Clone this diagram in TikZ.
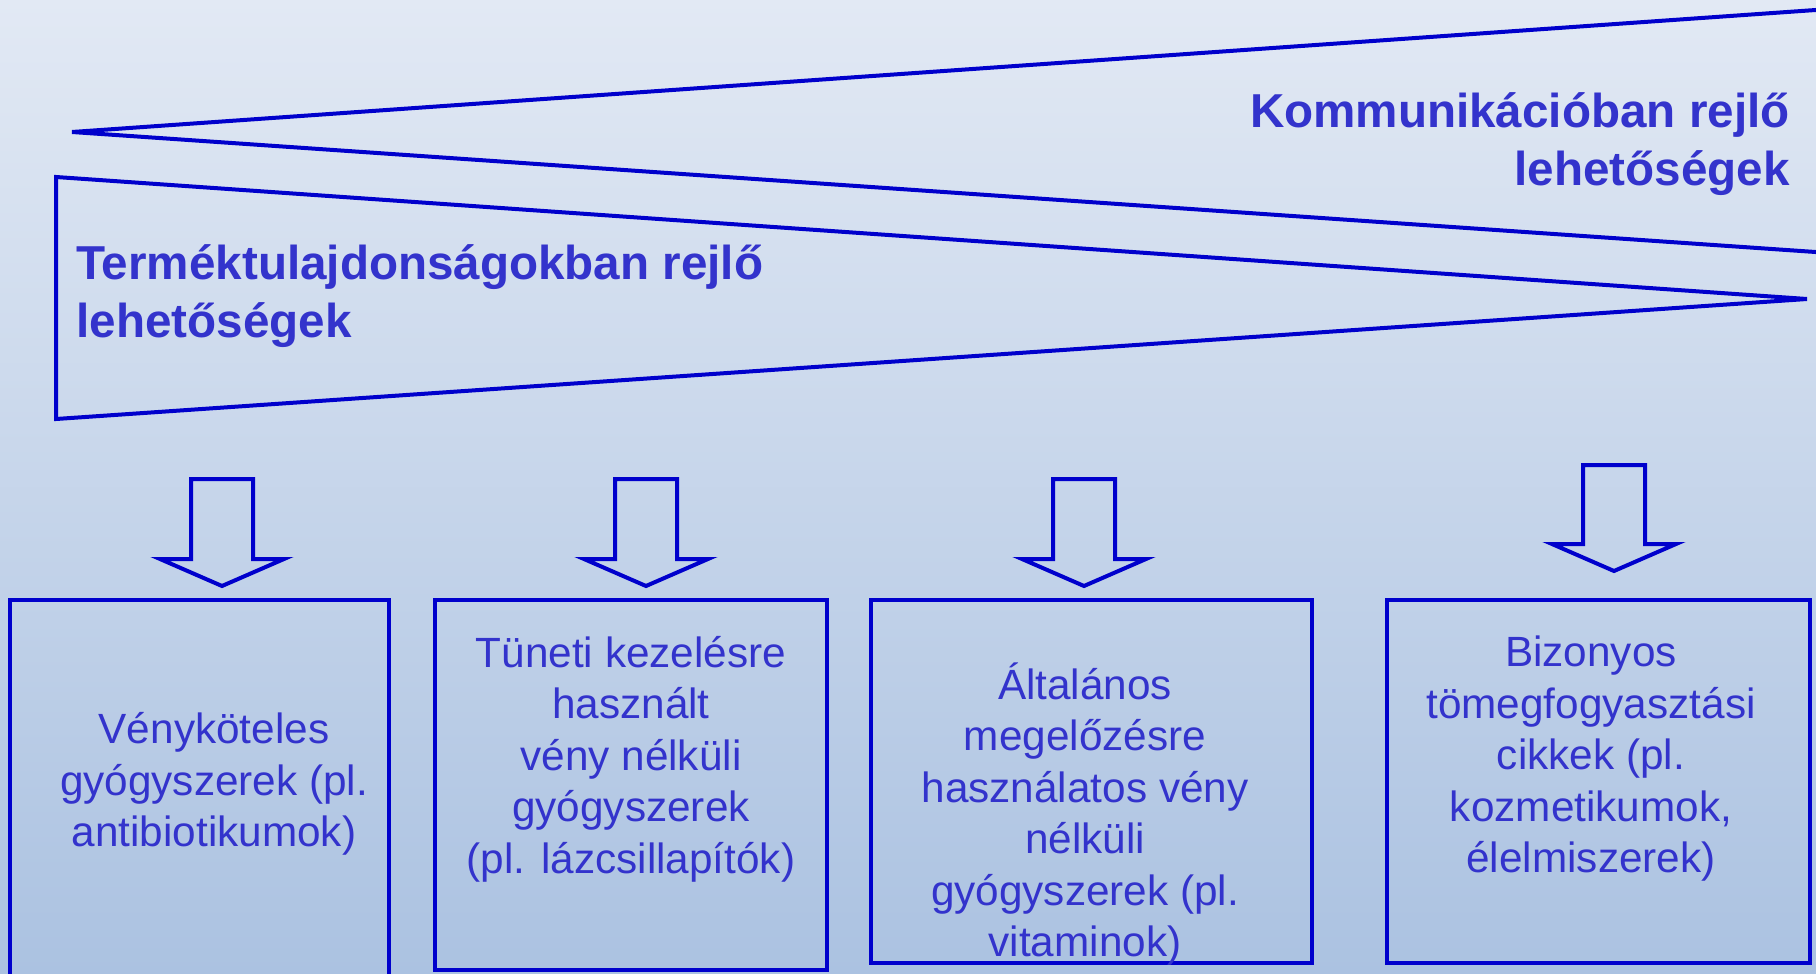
\documentclass[tikz,border=0pt]{standalone}
\usepackage{fontspec}
\setmainfont{Liberation Sans}
\usepackage{tikz}
\usetikzlibrary{positioning}
\definecolor{linecol}{HTML}{0000CC}
\definecolor{txtcol}{HTML}{3333CC}
\definecolor{bgtop}{HTML}{E2E9F4}
\definecolor{bgbot}{HTML}{ABC2E1}
\tikzstyle{outline} = [draw=linecol, line width=2pt]
\tikzstyle{catbox} = [rectangle, draw=linecol, line width=2pt, inner sep=0pt]
\tikzstyle{cattext} = [text=txtcol, align=center, inner sep=0pt,
    font=\fontsize{21.15}{25.75}\selectfont]
\tikzstyle{headtext} = [text=txtcol, inner sep=0pt,
    font=\bfseries\fontsize{23.8}{28.7}\selectfont]

\begin{document}
\begin{tikzpicture}[x=0.5pt, y=-0.5pt]
  \useasboundingbox (0,0) rectangle (1816,974);
  \clip (0,0) rectangle (1816,974);
  \shade[top color=bgtop, bottom color=bgbot] (0,0) rectangle (1816,974);

  % the two wedges
  \coordinate (commtip) at (72,132);
  \coordinate (prodtip) at (1807,299);
  \draw[outline] (1830,9) -- (commtip) -- (1830,253);
  \draw[outline] (56,177) -- (prodtip) -- (56,419) -- cycle;

  \node (comm) [headtext, anchor=east, align=right] at (1790,144) {Kommunikációban rejlő\\lehetőségek};
  \node (prod) [headtext, anchor=west, align=left] at (76,296) {Terméktulajdonságokban rejlő\\lehetőségek};

  % block arrows
  \foreach \x/\yt/\yb/\yp in {222/479/559/586, 646/479/559/586, 1084/479/559/586, 1614/465/544/571}
    \draw[outline] (\x-31,\yt) -- (\x+31,\yt) -- (\x+31,\yb) -- (\x+62,\yb)
      -- (\x,\yp) -- (\x-62,\yb) -- (\x-31,\yb) -- cycle;

  % category boxes
  \node (rx)    [catbox, minimum width=189.5pt, minimum height=192.5pt] at (199.5,792.5) {};
  \node (otc)   [catbox, minimum width=196pt, minimum height=185pt] at (631,785) {};
  \node (prev)  [catbox, minimum width=220.5pt, minimum height=181.5pt] at (1091.5,781.5) {};
  \node (goods) [catbox, minimum width=211.5pt, minimum height=181.5pt] at (1598.5,781.5) {};

  \node (rxtext)    [cattext] at (214,784) {Vényköteles\\gyógyszerek (pl.\\antibiotikumok)};
  \node (otctext)   [cattext] at (631,759) {Tüneti kezelésre\\használt\\vény nélküli\\gyógyszerek\\(pl. lázcsillapítók)};
  \node (prevtext)  [cattext] at (1085,814) {Általános\\megelőzésre\\használatos vény\\nélküli\\gyógyszerek (pl.\\vitaminok)};
  \node (goodstext) [cattext] at (1591,759) {Bizonyos\\tömegfogyasztási\\cikkek (pl.\\kozmetikumok,\\élelmiszerek)};
\end{tikzpicture}
\end{document}
